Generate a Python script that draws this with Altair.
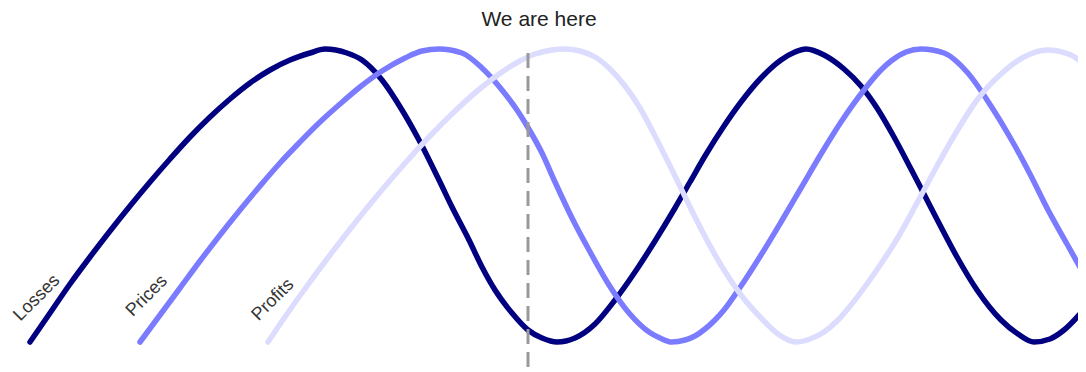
import altair as alt
import pandas as pd

# Readings from the picture: t = horizontal position, level = height above the trough
losses_t = [30, 50, 70, 90, 110, 130, 150, 170, 190, 210, 230, 250, 270, 290, 310, 325,
            347, 362, 382, 402, 419, 439, 452, 469, 482, 495, 512, 528, 542, 557,
            575, 595, 615, 635, 655, 675, 690, 705, 724, 741, 761, 781, 795, 806,
            824, 844, 861, 877, 894, 911, 926, 941, 957, 977, 1001, 1018, 1034,
            1050, 1064, 1086]
losses_v = [0, 29, 58, 85, 111, 136, 160, 183, 205, 225, 243, 259, 272, 282, 289, 293,
            289, 282, 262, 232, 202, 162, 135, 102, 75, 52, 29, 12, 4, 0,
            4, 18, 42, 70, 101, 134, 160, 186, 216, 240, 264, 282, 290, 293,
            287, 273, 256, 234, 205, 173, 144, 115, 85, 52, 22, 8, 0,
            3, 12, 35]

prices_t = [140, 160, 180, 200, 220, 240, 260, 280, 300, 320, 340, 360, 382, 405, 422, 439,
            462, 482, 502, 519, 530, 542, 555, 572, 589, 609, 629, 649, 660, 672,
            685, 695, 705, 715, 724, 741, 761, 781, 801, 821, 841, 864, 880, 891, 906, 921,
            944, 967, 991, 1011, 1031, 1047, 1067, 1086]
prices_v = [0, 27, 54, 81, 107, 132, 156, 179, 200, 220, 238, 255, 271, 284, 291, 293,
            289, 274, 252, 229, 211, 189, 160, 124, 92, 57, 29, 10, 4, 0,
            2, 6, 13, 22, 32, 56, 87, 120, 154, 188, 220, 252, 271, 281, 290, 293,
            289, 270, 236, 203, 166, 134, 98, 64]

profits_t = [268, 287, 307, 327, 347, 367, 387, 407, 429, 455, 482, 502, 518, 535, 552, 565,
             580, 595, 610, 625, 640, 655, 675, 692, 709, 724, 741, 761, 778, 796,
             810, 824, 838, 851, 874, 897, 917, 937, 957, 977, 1001, 1024, 1047, 1071, 1086]
profits_v = [0, 28, 56, 83, 109, 134, 158, 181, 205, 231, 255, 270, 280, 288, 292, 293,
             291, 285, 273, 256, 234, 206, 166, 131, 98, 72, 47, 24, 8, 0,
             3, 10, 22, 37, 68, 103, 139, 176, 211, 242, 268, 285, 292, 287, 276]

series_names = ["Losses", "Prices", "Profits"]
series_colors = ["#000080", "#7b7bff", "#dcdcff"]

label_t = [37, 147, 273]
label_v = [44, 46, 42]

marker_t = 528
marker_top = 289
marker_text = "We are here"
marker_text_v = 316

rows = []
for name, ts, vs in [("Losses", losses_t, losses_v),
                     ("Prices", prices_t, prices_v),
                     ("Profits", profits_t, profits_v)]:
    for i, (t, v) in enumerate(zip(ts, vs)):
        rows.append({"series": name, "t": t, "level": v, "order": i})
df = pd.DataFrame(rows)

labels_df = pd.DataFrame({"series": series_names, "t": label_t, "level": label_v})
marker_df = pd.DataFrame({"t": [marker_t], "top": [marker_top], "bottom": [-30],
                          "text": [marker_text], "tv": [marker_text_v]})

xs = alt.Scale(domain=[8, 1078], nice=False, zero=False)
ys = alt.Scale(domain=[-30, 334], nice=False, zero=False)
color = alt.Color("series:N", scale=alt.Scale(domain=series_names, range=series_colors), legend=None)

lines = alt.Chart(df).mark_line(strokeWidth=5.5, interpolate="monotone", strokeCap="round").encode(
    x=alt.X("t:Q", scale=xs, axis=None),
    y=alt.Y("level:Q", scale=ys, axis=None),
    color=color,
    order="order:Q",
    detail="series:N",
)

labels = alt.Chart(labels_df).mark_text(
    angle=315, align="center", baseline="middle", font="Liberation Sans",
    fontSize=18, color="#333333"
).encode(
    x=alt.X("t:Q", scale=xs, axis=None),
    y=alt.Y("level:Q", scale=ys, axis=None),
    text="series:N",
)

rule = alt.Chart(marker_df).mark_rule(color="#999999", strokeWidth=3, strokeDash=[15, 8]).encode(
    x=alt.X("t:Q", scale=xs, axis=None),
    y=alt.Y("top:Q", scale=ys, axis=None),
    y2="bottom:Q",
)

note = alt.Chart(marker_df).mark_text(
    align="center", baseline="alphabetic", font="Liberation Sans", fontSize=21,
    color="#222222", dx=11
).encode(
    x=alt.X("t:Q", scale=xs, axis=None),
    y=alt.Y("tv:Q", scale=ys, axis=None),
    text="text:N",
)

chart = alt.layer(lines, rule, labels, note).properties(
    width=1070, height=364,
    autosize=alt.AutoSizeParams(type="none"),
    padding=0,
    background="white",
).configure_view(stroke=None)

chart.save("out.html", embed_options={"renderer": "svg", "actions": False})
